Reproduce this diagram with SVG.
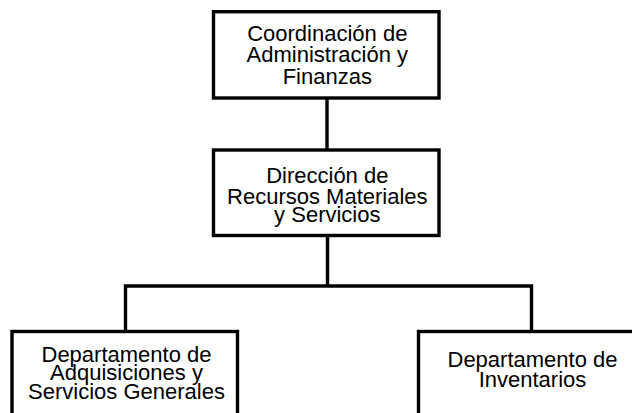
<svg xmlns="http://www.w3.org/2000/svg" width="632" height="413" viewBox="0 0 632 413">
<style>
.box{fill:#fff;stroke:#000;stroke-width:3.4}
.ln{fill:none;stroke:#000;stroke-width:3.4}
text{font-family:"Liberation Sans",Arial,sans-serif;font-size:22px;fill:#000;text-anchor:middle}
</style>
<rect width="632" height="413" fill="#fff"/>
<g id="connectors">
<path class="ln" d="M327 98 V150"/>
<path class="ln" d="M327.5 235.5 V286"/>
<path class="ln" d="M125.5 331.5 V286 H531.5 V331.5"/>
</g>
<g id="coordinacion">
<rect class="box" x="213.5" y="11.7" width="225.5" height="86.3"/>
<text x="327.3" y="40.7">Coordinación de</text>
<text x="327.3" y="62.3">Administración y</text>
<text x="327.3" y="84">Finanzas</text>
</g>
<g id="direccion">
<rect class="box" x="213.5" y="150" width="225.5" height="85.5"/>
<text x="327.3" y="183">Dirección de</text>
<text x="327.3" y="204">Recursos Materiales</text>
<text x="327.3" y="221.5">y Servicios</text>
</g>
<g id="adquisiciones">
<rect class="box" x="12" y="331.5" width="225.5" height="100"/>
<text x="126.5" y="361.5">Departamento de</text>
<text x="126.5" y="380">Adquisiciones y</text>
<text x="126.5" y="399">Servicios Generales</text>
</g>
<g id="inventarios">
<rect class="box" x="418.5" y="331.5" width="226" height="100"/>
<text x="532.5" y="366.7">Departamento de</text>
<text x="532.5" y="386.7">Inventarios</text>
</g>
</svg>
